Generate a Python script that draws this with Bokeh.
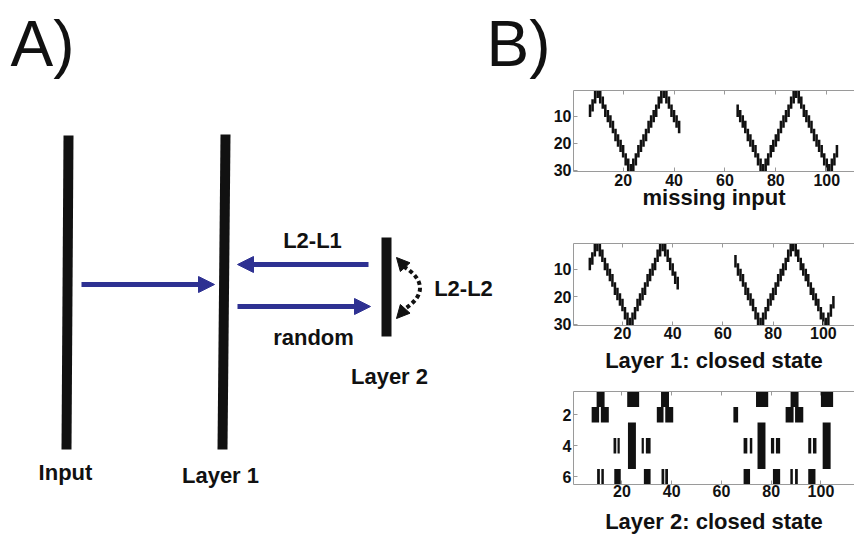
from bokeh.plotting import figure
from bokeh.models import Range1d, Arrow, NormalHead, LinearAxis, FixedTicker
from bokeh.layouts import row, column
from bokeh.embed import file_html
from bokeh.resources import INLINE
from bokeh.core.properties import value

# ---------------- Panel B data ----------------
# Layer 1 raster: time steps and centre of the active neuron group
seg_a_t = list(range(7, 43))
seg_b_t = list(range(65, 105))
missing_a = [8, 6, 3, 1, 3, 5, 8, 10, 12, 14, 17, 19, 21, 23, 26, 28, 30,
             28, 26, 23, 21, 19, 17, 14, 12, 10, 8, 5, 3, 1, 3, 5, 8, 10, 12, 14]
missing_b = [8, 10, 12, 14, 17, 19, 21, 23, 26, 28, 30,
             28, 26, 23, 21, 19, 17, 14, 12, 10, 8, 5, 3, 1,
             3, 5, 8, 10, 12, 14, 17, 19, 21, 23, 26, 28, 30, 28, 26, 23]
closed_a = [8, 6, 3, 1, 3, 5, 8, 10, 12, 14, 17, 19, 21, 23, 26, 28, 30,
            28, 26, 23, 21, 19, 17, 14, 12, 10, 8, 5, 3, 1, 3, 5, 8, 10, 13, 15]
closed_b = [7, 10, 12, 14, 17, 19, 21, 23, 26, 28, 30,
            28, 26, 23, 21, 19, 17, 14, 12, 10, 8, 5, 3, 1,
            3, 5, 8, 10, 12, 14, 17, 19, 21, 23, 26, 28, 30, 28, 25, 22]
group_half = 2.3

# Layer 2 raster: spike blocks (first neuron, last neuron, onset, offset)
l2_lo = [1, 1, 1, 1, 1, 1,
         2, 2, 2, 2, 2, 2, 2,
         3, 3, 3,
         4, 4, 4, 4, 4, 4, 4, 4, 4, 4,
         6, 6, 6, 6, 6, 6, 6, 6, 6, 6, 6]
l2_hi = [1, 1, 1, 1, 1, 1,
         2, 2, 2, 2, 2, 2, 2,
         5, 5, 5,
         4, 4, 4, 4, 4, 4, 4, 4, 4, 4,
         6, 6, 6, 6, 6, 6, 6, 6, 6, 6, 6]
l2_on = [9.8, 22.1, 35.7, 73.9, 87.8, 100.0,
         7.8, 11.5, 34.0, 37.4, 64.8, 85.8, 89.6,
         22.4, 74.5, 100.7,
         16.6, 18.2, 27.9, 29.6, 68.9, 71.4, 79.9, 81.9, 94.9, 96.8,
         10.0, 11.7, 16.9, 28.8, 35.9, 37.4, 68.9, 80.7, 87.7, 89.6, 94.9]
l2_off = [13.0, 26.9, 38.9, 78.8, 91.0, 104.9,
          10.8, 14.7, 36.7, 40.6, 66.7, 89.0, 92.9,
          25.6, 77.7, 103.9,
          17.7, 19.1, 28.8, 31.5, 70.4, 72.4, 81.2, 83.6, 96.1, 98.2,
          11.1, 12.7, 19.5, 31.5, 37.0, 38.5, 71.5, 83.6, 88.7, 90.7, 97.8]

x_ticks = [20, 40, 60, 80, 100]
l1_yticks = [10, 20, 30]
l2_yticks = [2, 4, 6]
titles = ["missing input", "Layer 1: closed state", "Layer 2: closed state"]

# ---------------- Panel A (schematic) ----------------
bar_x_top = [68, 225, 386]
bar_x_bot = [66, 222, 386]
bar_top = [135, 134, 237]
bar_bot = [449, 449, 336]
arrows = [  # (x_start, y, x_tip)
    (81, 284, 214),
    (368, 264, 237),
    (237, 306, 370),
]
diag_text = ["L2-L1", "random", "L2-L2", "Layer 2", "Input", "Layer 1"]
diag_tx = [312, 313, 463, 389, 65, 220]
diag_ty = [240, 337, 288, 376, 472, 475]
panel_text = ["A)", "B)"]
panel_tx = [10, 486]
panel_ty = [43, 43]
BLUE = "#2E3192"
FONT = "Liberation Sans"
LEFT_W = 550
TOTAL_W, TOTAL_H = 854, 536

pa = figure(width=LEFT_W, height=TOTAL_H, x_range=Range1d(0, LEFT_W), y_range=Range1d(TOTAL_H, 0),
            output_backend="svg", toolbar_location=None, min_border=0,
            x_axis_location=None, y_axis_location=None)
pa.grid.visible = False
pa.outline_line_color = None

pa.segment(x0=bar_x_top, y0=bar_top, x1=bar_x_bot, y1=bar_bot,
           line_width=10, line_color="#111111", line_cap="butt")
for xs, yy, xt in arrows:
    pa.add_layout(Arrow(end=NormalHead(size=16, fill_color=BLUE, line_color=BLUE, line_width=1),
                        x_start=xs, y_start=yy, x_end=xt, y_end=yy,
                        line_color=BLUE, line_width=5))
# dotted recurrent L2-L2 arc
pa.bezier(x0=[403], y0=[266], x1=[403], y1=[309], cx0=[425], cy0=[279], cx1=[425], cy1=[296],
          line_color="#111111", line_width=4, line_dash="4 3")
for ys, ye in [(267, 257), (308, 318)]:
    pa.add_layout(Arrow(end=NormalHead(size=13, fill_color="#111111", line_color="#111111", line_width=1),
                        x_start=405, y_start=ys, x_end=396, y_end=ye,
                        line_alpha=0, line_width=1))
pa.text(x=diag_tx, y=diag_ty, text=diag_text, text_align="center", text_baseline="alphabetic",
        text_font=value(FONT), text_font_style="bold", text_font_size="22px", text_color="#111111")
pa.text(x=panel_tx, y=panel_ty, text=panel_text, text_align="left", text_baseline="alphabetic",
        text_font=value(FONT), text_font_size="64px", text_color="#111111")


# ---------------- Panel B figures ----------------
def style_axes(p, yticks, tick_standoff, label, label_standoff):
    p.xaxis.ticker = FixedTicker(ticks=x_ticks, minor_ticks=[])
    p.yaxis.ticker = FixedTicker(ticks=yticks, minor_ticks=[])
    top = LinearAxis(ticker=FixedTicker(ticks=x_ticks, minor_ticks=[]), major_label_standoff=0)
    p.add_layout(top, "above")
    for ax in p.axis:
        ax.major_tick_in = 4
        ax.major_tick_out = 0
        ax.minor_tick_line_color = None
        ax.axis_line_color = "#9a9a9a"
        ax.major_tick_line_color = "#9a9a9a"
        ax.major_label_text_font = FONT
        ax.major_label_text_font_style = "bold"
        ax.major_label_text_color = "#111111"
        ax.major_label_text_font_size = "16px"
    top.major_label_text_color = None
    top.major_label_text_font_size = "0px"
    left = p.left[0]
    left.major_label_standoff = 2
    below = p.below[0]
    below.major_label_standoff = tick_standoff
    below.axis_label = label
    below.axis_label_text_font = FONT
    below.axis_label_text_font_style = "bold"
    below.axis_label_text_font_size = "22px"
    below.axis_label_text_color = "#111111"
    below.axis_label_standoff = label_standoff
    p.grid.visible = False
    p.outline_line_color = None


RIGHT_W = TOTAL_W - LEFT_W


def l1_fig(ta, ca, tb, cb, height, bl, bt, bb, x_end, tick_standoff, label, label_standoff):
    p = figure(width=RIGHT_W, height=height, x_range=Range1d(0.5, x_end), y_range=Range1d(30.5, 0.5),
               output_backend="svg", toolbar_location=None,
               min_border_left=bl, min_border_right=0, min_border_top=bt, min_border_bottom=bb)
    t = ta + tb
    c = ca + cb
    p.quad(left=[v - 0.5 for v in t], right=[v + 0.5 for v in t],
           top=[v - group_half for v in c], bottom=[v + group_half for v in c],
           fill_color="#111111", line_color=None)
    style_axes(p, l1_yticks, tick_standoff, label, label_standoff)
    return p


p1 = l1_fig(seg_a_t, missing_a, seg_b_t, missing_b, 212, 22, 90, 41, 110.9, 2, titles[0], -4)
p2 = l1_fig(seg_a_t, closed_a, seg_b_t, closed_b, 164, 18, 31, 51, 112.4, 1, titles[1], 6)

p3 = figure(width=RIGHT_W, height=160, x_range=Range1d(0.5, 113.5), y_range=Range1d(6.5, 0.5),
            output_backend="svg", toolbar_location=None,
            min_border_left=13, min_border_right=0, min_border_top=15, min_border_bottom=52)
p3.quad(left=l2_on, right=l2_off, top=[v - 0.5 for v in l2_lo], bottom=[v + 0.5 for v in l2_hi],
        fill_color="#111111", line_color=None)
style_axes(p3, l2_yticks, 0, titles[2], 9)

layout = row(pa, column(p1, p2, p3))
open("out.html", "w").write(file_html(layout, INLINE))
